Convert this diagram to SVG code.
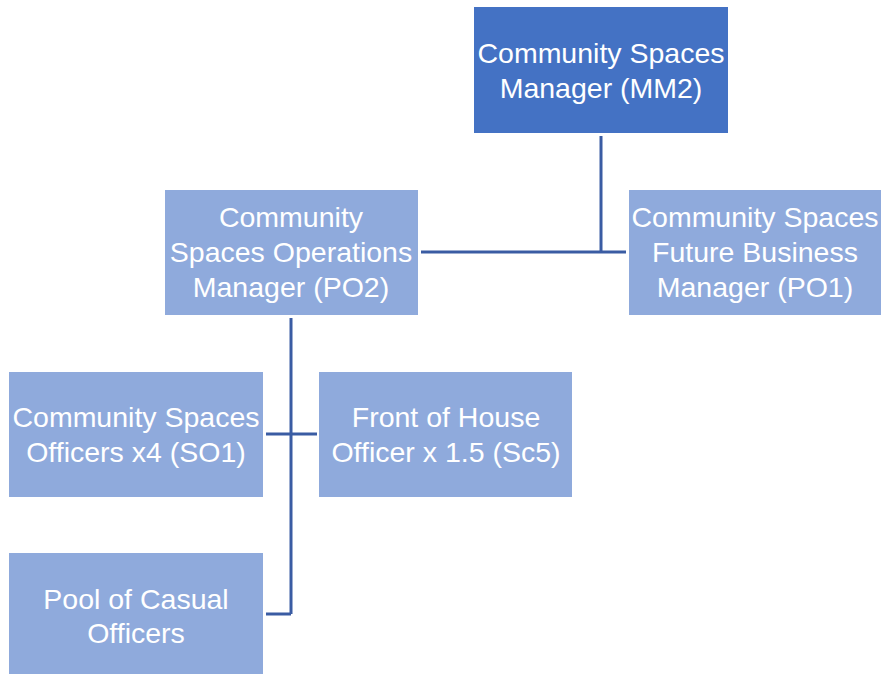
<svg xmlns="http://www.w3.org/2000/svg" width="881" height="674" viewBox="0 0 881 674">
  <style>
    .box { fill: #8FAADC; }
    .top { fill: #4472C4; }
    .lbl { font-family: "Liberation Sans", Arial, sans-serif; font-size: 28.5px; fill: #FFFFFF; text-anchor: middle; }
    .wire { stroke: #3A5CA3; stroke-width: 3; fill: none; }
  </style>
  <rect width="881" height="674" fill="#FFFFFF"/>

  <!-- reporting lines -->
  <g id="connectors">
    <path class="wire" d="M601 136 V252 M421 252 H626"/>
    <path class="wire" d="M291 318 V614 M266 434 H317 M266 614 H291"/>
  </g>

  <g id="mm2">
    <rect class="top" x="474" y="7" width="254" height="126"/>
    <text class="lbl" x="601" y="63">Community Spaces</text>
    <text class="lbl" x="601" y="98">Manager (MM2)</text>
  </g>

  <g id="po2">
    <rect class="box" x="165" y="190" width="253" height="125"/>
    <text class="lbl" x="291" y="227">Community</text>
    <text class="lbl" x="291" y="262">Spaces Operations</text>
    <text class="lbl" x="291" y="297">Manager (PO2)</text>
  </g>

  <g id="po1">
    <rect class="box" x="629" y="190" width="252" height="125"/>
    <text class="lbl" x="755" y="227">Community Spaces</text>
    <text class="lbl" x="755" y="262">Future Business</text>
    <text class="lbl" x="755" y="297">Manager (PO1)</text>
  </g>

  <g id="so1">
    <rect class="box" x="9" y="372" width="254" height="125"/>
    <text class="lbl" x="136" y="427">Community Spaces</text>
    <text class="lbl" x="136" y="462">Officers x4 (SO1)</text>
  </g>

  <g id="foh">
    <rect class="box" x="319" y="372" width="253" height="125"/>
    <text class="lbl" x="446" y="427">Front of House</text>
    <text class="lbl" x="446" y="462">Officer x 1.5 (Sc5)</text>
  </g>

  <g id="pool">
    <rect class="box" x="9" y="553" width="254" height="121"/>
    <text class="lbl" x="136" y="609">Pool of Casual</text>
    <text class="lbl" x="136" y="643">Officers</text>
  </g>
</svg>
